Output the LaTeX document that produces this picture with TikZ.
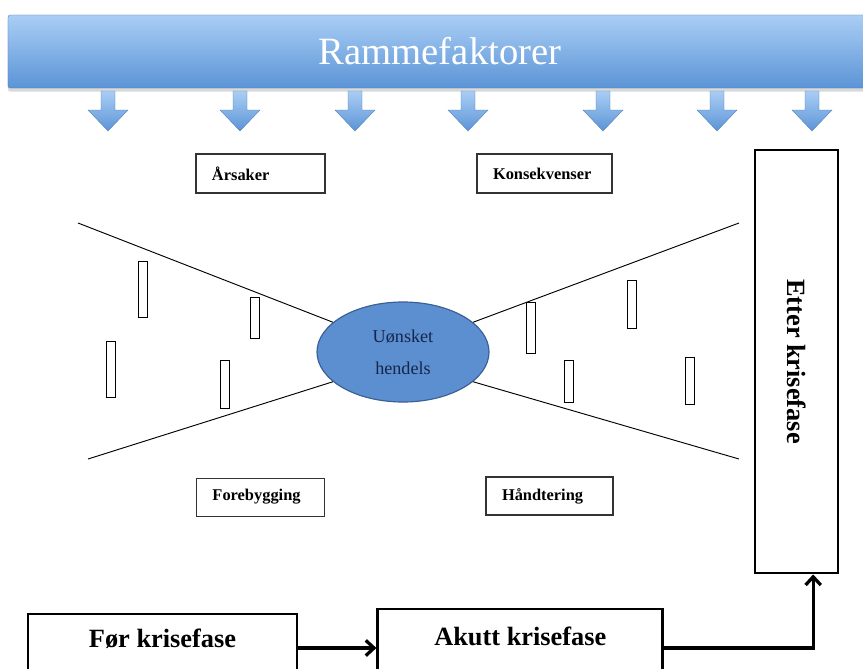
\documentclass[tikz,border=0pt]{standalone}
\usepackage{fontspec}
\setmainfont{Liberation Serif}
\usepackage{graphicx}
\usetikzlibrary{shapes.geometric, arrows.meta, positioning, shadows}

\definecolor{bannertop}{HTML}{AACEF5}
\definecolor{bannerbot}{HTML}{5B94D6}
\definecolor{eventfill}{HTML}{5B8FCF}
\definecolor{eventedge}{HTML}{3B5F96}
\definecolor{eventtext}{HTML}{16264A}

\begin{document}
\begin{tikzpicture}[
    x=0.03cm, y=-0.03cm,
    banner/.style={rectangle, rounded corners=2pt, top color=bannertop, bottom color=bannerbot, draw=bannerbot!85!black, line width=0.3pt, drop shadow={opacity=0.3, shadow xshift=0pt, shadow yshift=-3pt}, minimum width=25.92cm, minimum height=2.19cm, text=white, font=\fontsize{33}{36}\selectfont},
    factorbox/.style={rectangle, draw=black!80, line width=0.9pt, align=left, inner xsep=0.48cm, minimum height=1.17cm, font=\fontsize{14}{16}\selectfont\bfseries},
    event/.style={ellipse, draw=eventedge, line width=1pt, fill=eventfill, minimum width=5.16cm, minimum height=3cm, inner sep=0pt, align=center, text=eventtext, font=\fontsize{15.5}{27}\selectfont},
    bar/.style={rectangle, draw, line width=0.8pt, minimum width=0.27cm, inner sep=0pt},
    phasebox/.style={rectangle, draw, line width=2.4pt, font=\fontsize{22.5}{26}\selectfont\bfseries},
    wing/.style={line width=0.8pt},
    arr/.style={-{Straight Barb[length=7pt, width=13pt]}, line width=2.8pt},
    downarrow/.pic={\path[top color=bannertop, bottom color=bannerbot, draw=bannerbot!85!black, line width=0.3pt]
        (-7,0) -- (7,0) -- (7,19) -- (20,19) -- (0,40) -- (-20,19) -- (-7,19) -- cycle;},
]
    \useasboundingbox (0,0) rectangle (863,669);

    % Banner with arrows
    \node[banner] (ramme) at (440,51.5) {Rammefaktorer};
    \pic at (108,91) {downarrow};
    \pic at (240,91) {downarrow};
    \pic at (355,91) {downarrow};
    \pic at (468,91) {downarrow};
    \pic at (603,91) {downarrow};
    \pic at (717,91) {downarrow};
    \pic at (812,91) {downarrow};

    % Bow tie
    \node[event] (hendelse) at (403,352) {Uønsket\\hendels};
    \coordinate (tl) at (78,223);
    \coordinate (bl) at (88,459);
    \coordinate (tr) at (739,223);
    \coordinate (br) at (739,459);
    \draw[wing] (tl) -- (hendelse.157);
    \draw[wing] (bl) -- (hendelse.203);
    \draw[wing] (tr) -- (hendelse.23);
    \draw[wing] (br) -- (hendelse.337);

    % Barriers
    \node[bar, minimum height=1.68cm] (barL1) at (142.5,289) {};
    \node[bar, minimum height=1.68cm] (barL2) at (111,369) {};
    \node[bar, minimum height=1.23cm] (barL3) at (254.5,317.5) {};
    \node[bar, minimum height=1.44cm] (barL4) at (225,384) {};
    \node[bar, minimum height=1.53cm] (barR1) at (531,327.5) {};
    \node[bar, minimum height=1.44cm] (barR2) at (632,304) {};
    \node[bar, minimum height=1.26cm] (barR3) at (569,381) {};
    \node[bar, minimum height=1.41cm] (barR4) at (690,380.5) {};

    % Labels
    \node[factorbox, text width=2.91cm] (arsaker) at (260.5,173.5) {Årsaker};
    \node[factorbox, text width=3.09cm] (konsekv) at (544.5,173.5) {Konsekvenser};
    \node[factorbox, text width=2.88cm, minimum height=1.14cm, below=8.52cm of arsaker] (forebygg) {Forebygging};
    \node[factorbox, text width=2.85cm, minimum height=1.14cm] (handter) at (549.5,496) {Håndtering};

    % Phases
    \node[phasebox, minimum width=2.49cm, minimum height=12.69cm] (etter) at (796.5,361.5) {\rotatebox{-90}{Etter krisefase}};
    \node[phasebox, minimum width=8.07cm, minimum height=2.04cm, inner ysep=0.25cm, text height=0.74cm, text depth=0.80cm] (foer) at (162.5,648) {Før krisefase};
    \node[phasebox, minimum width=8.55cm, minimum height=2.34cm, inner ysep=0.25cm, text height=0.83cm, text depth=1.01cm, right=2.34cm of foer] (akutt) {Akutt krisefase};

    \draw[arr] (foer) -- (akutt);
    \draw[arr] (akutt) -| ([xshift=0.5cm]etter.south);
\end{tikzpicture}
\end{document}
